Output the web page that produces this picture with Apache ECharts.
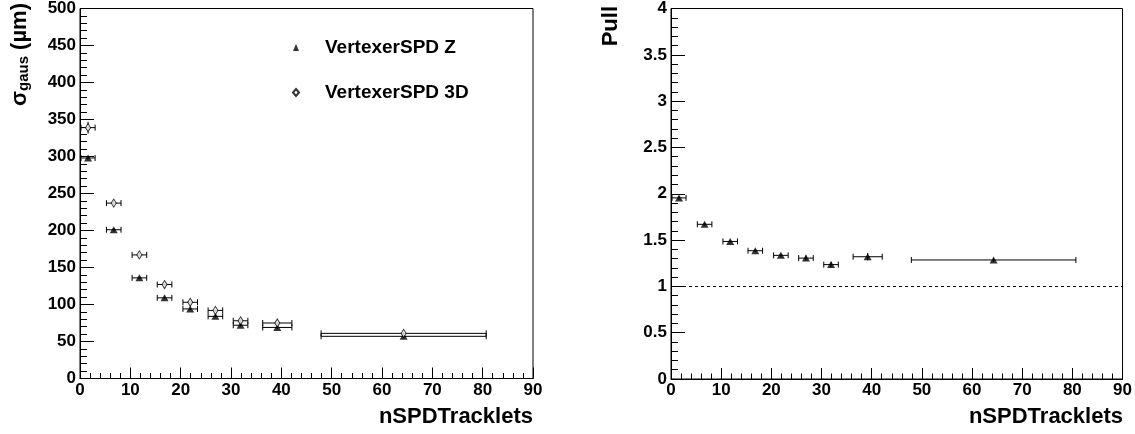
<!DOCTYPE html>
<html>
<head>
<meta charset="utf-8">
<script src="https://cdn.jsdelivr.net/npm/echarts@6/dist/echarts.min.js"></script>
<style>html,body{margin:0;padding:0;background:#fff}#c{width:1135px;height:434px}</style>
</head>
<body>
<div id="c"></div>
<script>
// ---- data ----
const nTracklets    = [1.6, 6.7, 11.8, 16.8, 21.9, 26.9, 31.9, 39.2, 64.3];
const nTrackletsErr = [1.4, 1.45, 1.45, 1.45, 1.45, 1.45, 1.45, 2.9, 16.4];
const sigmaZ        = [298, 201, 136, 109, 94, 84, 72, 69, 57];
const sigmaZErr     = [2, 2, 1.5, 1.5, 1.5, 1.5, 1.5, 2, 1.5];
const sigma3D       = [339, 237, 167, 127, 103, 92, 78, 75, 61];
const sigma3DErr    = [8, 2.5, 2, 2, 2, 2, 2, 2, 2];
const pull          = [1.955, 1.67, 1.485, 1.385, 1.335, 1.305, 1.235, 1.32, 1.285];
const pullErr       = [0.02, 0.015, 0.015, 0.015, 0.02, 0.03, 0.03, 0.04, 0.02];
const pullRef       = 1;
const seriesNames   = ['VertexerSPD Z', 'VertexerSPD 3D'];
const xTitle        = 'nSPDTracklets';

const FONT = 'Liberation Sans, Arial, Helvetica, sans-serif';

function rows(y, ey) {
  return nTracklets.map((x, i) => [x, y[i], nTrackletsErr[i], ey[i]]);
}
function errRender(params, api) {
  const x = api.value(0), y = api.value(1), ex = api.value(2), ey = api.value(3);
  const pL = api.coord([x - ex, y]), pR = api.coord([x + ex, y]);
  const pT = api.coord([x, y + ey]), pB = api.coord([x, y - ey]);
  const c = 3;
  const st = { stroke: '#000', lineWidth: 1 };
  const ln = (a, b, c2, d) => ({ type: 'line', shape: { x1: a, y1: b, x2: c2, y2: d }, style: st });
  return {
    type: 'group',
    children: [
      ln(pL[0], pL[1], pR[0], pR[1]),
      ln(pL[0], pL[1] - c, pL[0], pL[1] + c),
      ln(pR[0], pR[1] - c, pR[0], pR[1] + c),
      ln(pT[0], pT[1], pB[0], pB[1])
    ]
  };
}

const tickLbl = { fontFamily: FONT, fontWeight: 'bold', fontSize: 17, color: '#000' };
function xAx(idx) {
  return {
    type: 'value', gridIndex: idx, min: 0, max: 90, interval: 10,
    axisLine: { show: true, lineStyle: { color: '#000', width: 1 } },
    axisTick: { inside: true, length: 11, lineStyle: { color: '#000' } },
    minorTick: { show: true, splitNumber: 5, length: 5.5, lineStyle: { color: '#000' } },
    splitLine: { show: false },
    axisLabel: Object.assign({ margin: 3 }, tickLbl)
  };
}
function yAx(idx, max, interval) {
  return {
    type: 'value', gridIndex: idx, min: 0, max: max, interval: interval,
    axisLine: { show: true, lineStyle: { color: '#000', width: 1 } },
    axisTick: { inside: true, length: 14, lineStyle: { color: '#000' } },
    minorTick: { show: true, splitNumber: 5, length: 7, lineStyle: { color: '#000' } },
    splitLine: { show: false },
    axisLabel: Object.assign({ margin: 4 }, tickLbl)
  };
}

const chart = echarts.init(document.getElementById('c'), null, { renderer: 'canvas' });
chart.setOption({
  animation: false,
  backgroundColor: '#fff',
  grid: [
    { left: 80, top: 6, width: 453, height: 372.5, show: true, borderColor: '#000', borderWidth: 1, backgroundColor: 'transparent' },
    { left: 671, top: 6, width: 452, height: 373, show: true, borderColor: '#000', borderWidth: 1, backgroundColor: 'transparent' }
  ],
  xAxis: [xAx(0), xAx(1)],
  yAxis: [yAx(0, 500, 50), yAx(1, 4, 0.5)],
  legend: {
    orient: 'vertical', left: 287, top: 33, itemGap: 26, itemWidth: 6, itemHeight: 7,
    selectedMode: false,
    data: [{ name: seriesNames[0], icon: 'triangle' }, { name: seriesNames[1], icon: 'diamond' }],
    formatter: '{t|{name}}',
    textStyle: { rich: { t: { fontFamily: FONT, fontWeight: 'bold', fontSize: 19, color: '#000', padding: [0, 0, 0, 21] } } }
  },
  graphic: [
    {
      type: 'text', x: 20, y: 3, rotation: Math.PI / 2,
      style: {
        text: '{a|σ}{b|gaus}{a| (µm)}', align: 'right', verticalAlign: 'middle',
        rich: {
          a: { fontFamily: FONT, fontWeight: 'bold', fontSize: 22, lineHeight: 23, verticalAlign: 'top', fill: '#000' },
          b: { fontFamily: FONT, fontWeight: 'bold', fontSize: 15, lineHeight: 15, verticalAlign: 'bottom', padding: [11, 0, 0, 0], fill: '#000' }
        }
      }
    },
    {
      type: 'text', x: 611, y: 6, rotation: Math.PI / 2,
      style: { text: 'Pull', align: 'right', verticalAlign: 'middle', fontFamily: FONT, fontWeight: 'bold', fontSize: 22, fill: '#000' }
    },
    {
      type: 'text', x: 533, y: 417,
      style: { text: xTitle, align: 'right', verticalAlign: 'middle', fontFamily: FONT, fontWeight: 'bold', fontSize: 22, fill: '#000' }
    },
    {
      type: 'text', x: 1123, y: 417,
      style: { text: xTitle, align: 'right', verticalAlign: 'middle', fontFamily: FONT, fontWeight: 'bold', fontSize: 22, fill: '#000' }
    }
  ],
  series: [
    { type: 'custom', xAxisIndex: 0, yAxisIndex: 0, renderItem: errRender, data: rows(sigmaZ, sigmaZErr), encode: { x: 0, y: 1 }, z: 1, silent: true },
    { type: 'custom', xAxisIndex: 0, yAxisIndex: 0, renderItem: errRender, data: rows(sigma3D, sigma3DErr), encode: { x: 0, y: 1 }, z: 1, silent: true },
    { type: 'custom', xAxisIndex: 1, yAxisIndex: 1, renderItem: errRender, data: rows(pull, pullErr), encode: { x: 0, y: 1 }, z: 1, silent: true },
    {
      name: seriesNames[0], type: 'scatter', xAxisIndex: 0, yAxisIndex: 0, z: 3,
      symbol: 'triangle', symbolSize: [8, 7],
      itemStyle: { color: '#000', borderWidth: 0 },
      data: nTracklets.map((x, i) => [x, sigmaZ[i]])
    },
    {
      name: seriesNames[1], type: 'scatter', xAxisIndex: 0, yAxisIndex: 0, z: 3,
      symbol: 'diamond', symbolSize: [5, 8],
      itemStyle: { color: '#fff', borderColor: '#000', borderWidth: 1 },
      data: nTracklets.map((x, i) => [x, sigma3D[i]])
    },
    {
      name: 'pull', type: 'scatter', xAxisIndex: 1, yAxisIndex: 1, z: 3,
      symbol: 'triangle', symbolSize: [8, 7],
      itemStyle: { color: '#000', borderWidth: 0 },
      data: nTracklets.map((x, i) => [x, pull[i]]),
      markLine: {
        silent: true, symbol: 'none', label: { show: false },
        lineStyle: { color: '#000', type: [3, 3], width: 1 },
        data: [{ yAxis: pullRef }]
      }
    }
  ]
});
</script>
</body>
</html>
